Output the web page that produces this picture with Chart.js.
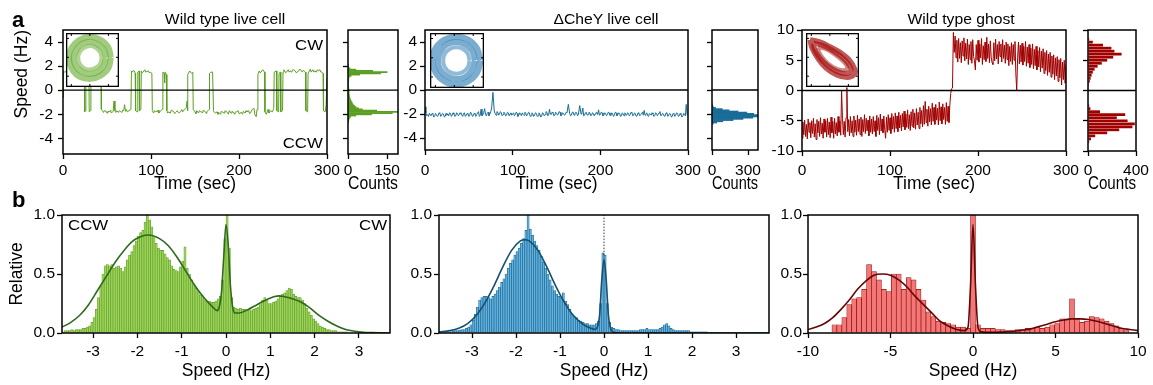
<!DOCTYPE html>
<html>
<head>
<meta charset="utf-8">
<script src="https://cdn.jsdelivr.net/npm/chart.js@4.4.1/dist/chart.umd.min.js"></script>
<style>
  body { margin: 0; background: #fff; }
  #fig { position: relative; width: 1153px; height: 385px; overflow: hidden; font-family: 'Liberation Sans', Arial, sans-serif; color: #000; }
  #fig canvas { position: absolute; }
  .txt { position: absolute; white-space: nowrap; line-height: 1; z-index: 5; }
  .mid { transform: translateX(-50%) scaleX(1.12); }
  .wr { transform: scaleX(1.12); transform-origin: right top; }
  .wl { transform: scaleX(1.12); transform-origin: left top; }
</style>
</head>
<body>
<div id="fig">
  <div class="txt" style="left:12px;top:9px;font-size:22px;font-weight:bold">a</div>
  <div class="txt" style="left:12px;top:189px;font-size:22px;font-weight:bold">b</div>
  <div class="txt mid" style="left:225px;top:12px;font-size:14px">Wild type live cell</div>
  <div class="txt mid" style="left:606px;top:12px;font-size:14px">ΔCheY live cell</div>
  <div class="txt mid" style="left:961px;top:12px;font-size:14px">Wild type ghost</div>
  <div class="txt wr" style="right:830px;top:37px;font-size:15px">CW</div>
  <div class="txt wr" style="right:830px;top:135px;font-size:15px">CCW</div>
  <div class="txt wl" style="left:68px;top:217px;font-size:15px">CCW</div>
  <div class="txt wr" style="right:766px;top:217px;font-size:15px">CW</div>
</div>
<script>
"use strict"

//Tick positions
const timeTicks = [0, 100, 200, 300];
const liveSpeedTicks = [-4, -2, 0, 2, 4];
const ghostSpeedTicks = [-10, -5, 0, 5, 10];
const wtCountTicks = [0, 150];
const cheyCountTicks = [0, 300];
const ghostCountTicks = [0, 400];
const relTicks = [0, 0.5, 1];
const liveHzTicks = [-3, -2, -1, 0, 1, 2, 3];
const ghostHzTicks = [-10, -5, 0, 5, 10];

//Speed traces [time sec, speed Hz]
const wtLivePts = [[0,-0.6],[0.6,1.6],[2,1.5],[5,1.6],[8,1.5],[11,1.6],[14,1.5],[17,1.6],[20,1.5],[23,1.6],[24.2,1.5],[24.6,-1.8],[25.5,-1.7],[26,1.5],[29.4,1.6],[29.8,-1.8],[31.2,-1.7],[31.7,1.5],[35,1.6],[38,1.5],[41,1.6],[43.2,1.5],[43.6,-1.6],[45,-1.7],[46,-1.85],[47,-1.7],[49,-1.75],[50,-1.9],[51,-1.75],[53,-1.8],[54,-1.65],[55,-1.9],[57,-1.75],[58,-0.9],[59,-1.7],[60,-1.85],[61,-1.7],[63,-1.85],[64,-1.7],[65,-1.75],[67,-1.85],[68,-1.65],[69,-1.7],[70,-1.2],[71,-1.75],[72,-1.6],[73,-1.8],[75,-1.7],[77.2,-1.6],[77.8,1.6],[79,1.5],[80,1.65],[81,1.6],[82,1.4],[82.5,-1.7],[84.5,-1.8],[85,1.5],[86.5,1.6],[87,-1.7],[88.5,-1.6],[89,1.6],[90,1.45],[91,1.5],[93,1.7],[94,1.5],[95,1.55],[97,1.6],[98,1.45],[99,1.5],[101,1.4],[101.5,-1.7],[103,-1.9],[104,-1.7],[105,-1.75],[107,-1.8],[108,-1.65],[109,-1.9],[111,-1.7],[113,-1.6],[113.5,1.5],[115,1.4],[115.5,0.6],[116,1.5],[117.5,1.3],[118,-1.7],[119,-1.9],[120,-1.8],[122,-1.9],[123,-1.65],[124,-1.7],[126,-1.8],[127,-1.95],[128,-1.85],[130,-1.7],[131,-1.85],[132,-1.9],[134,-1.75],[135,-1.6],[136,-1.8],[138,-1.6],[140,-1.5],[141,-0.9],[141.5,-1.7],[142,1.3],[144,1.6],[145,1.5],[146,1.4],[147.5,1.5],[148,-1.6],[150,-1.8],[151,-1.95],[152,-1.7],[154,-1.9],[155,-1.7],[156,-1.75],[158,-1.85],[159,-1.7],[160,-1.7],[162,-1.8],[163,-1.95],[164,-1.75],[166,-1.6],[166.5,1.4],[168,1.5],[170,1.5],[171,-1.7],[172,-1.85],[173,-1.9],[175,-1.8],[176,-2.0],[177,-1.85],[179,-2.0],[180,-1.75],[181,-1.8],[183,-1.9],[184,-1.7],[185,-1.75],[187,-1.85],[188,-2.0],[189,-1.7],[191,-1.9],[192,-1.75],[193,-1.8],[195,-2.0],[196,-1.8],[197,-1.8],[199,-1.7],[200,-1.95],[201,-1.9],[203,-1.85],[204,-2.0],[205,-1.75],[207,-1.9],[208,-1.7],[209,-1.8],[211,-1.7],[212,-1.95],[213,-1.9],[215,-1.6],[217,-1.5],[218,-2.0],[219.5,-2.2],[220.5,-1.6],[221.5,1.3],[223,1.6],[224,1.45],[225,1.5],[227,1.7],[229,1.5],[229.5,-1.8],[231,-2.0],[233,-1.6],[234,-1.9],[236,-1.7],[238,-1.8],[239.5,-1.5],[240,1.5],[242.5,1.6],[243,-1.7],[245,-1.8],[245.5,1.4],[247,1.5],[247.5,-1.8],[249.5,-1.7],[250,1.5],[251,1.7],[252,1.6],[253,1.45],[254,1.5],[256,1.7],[257,1.5],[258,1.6],[260,1.5],[261,1.7],[262,1.7],[264,1.6],[265,1.45],[266,1.5],[268,1.6],[269,1.75],[270,1.7],[272,1.5],[273,1.65],[274,1.6],[275.5,1.5],[276,-1.7],[278,-1.8],[278.5,1.4],[280,1.6],[281,1.75],[282,1.5],[284,1.7],[285,1.5],[286,1.6],[288,1.5],[289,1.7],[290,1.6],[292,1.7],[293,1.5],[294,1.5],[295.5,1.4],[296,-1.7],[298,-1.8],[299,-1.2],[300,1.0]];

const cheyPts = [[0,-1.4],[1,-1.9],[2,-2.15],[3,-2.05],[4,-2.2],[5,-1.95],[6,-2.1],[7,-2.15],[8,-1.95],[9,-2.0],[10,-2.25],[11,-2.2],[12,-1.95],[13,-2.05],[14,-2.2],[15,-2.15],[16,-1.9],[17,-1.95],[18,-2.2],[19,-2.1],[20,-1.95],[21,-2.0],[22,-2.25],[23,-2.2],[24,-1.95],[25,-2.1],[26,-2.0],[27,-2.15],[28,-1.9],[29,-1.95],[30,-2.2],[31,-2.1],[32,-1.9],[33,-2.0],[34,-2.2],[35,-2.15],[36,-1.9],[37,-1.95],[38,-2.15],[39,-2.05],[40,-1.9],[41,-2.0],[42,-2.1],[43,-2.2],[44,-1.95],[45,-1.9],[46,-2.2],[47,-2.1],[48,-1.95],[49,-2.0],[50,-2.2],[51,-2.1],[52,-1.85],[53,-1.95],[54,-2.2],[55,-2.15],[56,-1.95],[57,-2.0],[58,-2.2],[59,-2.05],[60,-1.9],[61,-1.8],[62,-2.2],[63,-2.1],[64,-1.6],[65,-2.15],[66,-2.05],[67,-1.9],[68,-1.55],[69,-2.0],[70,-2.15],[71,-1.95],[72,-1.85],[73,-2.15],[74,-2.0],[75,-1.8],[76,-1.5],[77.5,-0.2],[79,-1.75],[80,-1.95],[81,-2.1],[82,-1.8],[83,-1.85],[84,-2.1],[85,-2.0],[86,-1.8],[87,-1.9],[88,-2.15],[89,-2.05],[90,-1.85],[91,-1.95],[92,-2.15],[93,-2.1],[94,-1.85],[95,-1.9],[96,-2.15],[97,-2.0],[98,-1.9],[99,-2.1],[100,-2.0],[101,-1.9],[102,-2.15],[103,-2.05],[104,-1.85],[105,-1.95],[106,-2.2],[107,-2.1],[108,-1.9],[109,-2.0],[110,-2.15],[111,-1.9],[112,-2.05],[113,-2.1],[114,-1.85],[115,-1.95],[116,-2.15],[117,-2.05],[118,-1.85],[119,-1.9],[120,-2.2],[121,-2.15],[122,-1.9],[123,-2.0],[124,-2.2],[125,-2.1],[126,-1.9],[127,-1.95],[128,-2.2],[129,-2.15],[130,-1.9],[131,-2.0],[132,-2.25],[133,-2.2],[134,-1.9],[135,-1.95],[136,-2.15],[137,-2.05],[138,-1.8],[139,-1.85],[140,-2.15],[141,-2.1],[142,-1.6],[143,-2.0],[144,-2.05],[145,-1.85],[146,-1.9],[147,-2.15],[148,-2.1],[149,-1.85],[150,-1.95],[151,-2.1],[152,-2.0],[153,-1.8],[154,-1.85],[155,-2.15],[156,-2.1],[157,-1.9],[158,-1.95],[159,-2.1],[160,-2.05],[161,-1.85],[162,-1.9],[163.5,-1.2],[165,-1.95],[166,-2.15],[167,-2.1],[168,-1.85],[169,-1.85],[170,-2.1],[171,-2.0],[172,-1.85],[173,-1.9],[174,-2.15],[175,-2.05],[176.5,-1.3],[178,-2.0],[179,-1.85],[180,-1.5],[181,-2.15],[182,-2.1],[183,-1.9],[184,-1.85],[185,-2.1],[186,-2.05],[187,-1.85],[188,-1.9],[189,-2.15],[190,-2.1],[191,-1.9],[192,-1.95],[193,-2.15],[194,-2.0],[195,-1.9],[196,-1.85],[197,-2.05],[198,-1.65],[199,-2.1],[200,-2.05],[201,-1.85],[202,-1.9],[203,-2.15],[204,-2.1],[205,-1.9],[206,-1.95],[207,-2.15],[208,-2.05],[209,-1.85],[210,-1.9],[211,-2.1],[212,-2.15],[213,-1.9],[214,-2.0],[215,-2.2],[216,-2.1],[217,-1.85],[218,-1.9],[219,-2.15],[220,-2.05],[221,-1.9],[222,-1.95],[223,-2.2],[224,-2.15],[225,-1.9],[226,-2.0],[227,-2.15],[228,-1.9],[229,-2.05],[230,-2.1],[231,-1.9],[232,-1.95],[233,-2.15],[234,-2.05],[235,-1.85],[236,-1.9],[237,-2.15],[238,-2.1],[239,-1.9],[240,-2.0],[241,-2.2],[242,-2.15],[243,-1.9],[244,-1.95],[245,-2.15],[246,-2.05],[247,-1.95],[248,-1.85],[249,-2.1],[250,-1.7],[251,-2.1],[252,-2.05],[253,-1.9],[254,-2.15],[255,-2.2],[256,-1.95],[257,-2.0],[258,-2.1],[259,-1.9],[260,-2.0],[261,-2.2],[262,-2.15],[263,-1.9],[264,-1.95],[265,-2.15],[266,-2.05],[267,-1.9],[268,-1.8],[269,-2.15],[270,-2.1],[271,-1.95],[272,-2.0],[273,-2.2],[274,-2.15],[275,-1.9],[276,-1.95],[277,-2.2],[278,-2.1],[279,-1.95],[280,-2.0],[281,-2.25],[282,-2.2],[283,-1.95],[284,-2.0],[285,-2.2],[286,-2.1],[287,-1.9],[288,-1.95],[289,-2.2],[290,-2.15],[291,-1.95],[292,-2.05],[293,-2.25],[294,-2.2],[295,-1.95],[296,-2.0],[297,-2.15],[298,-1.2],[299,-2.05],[300,-2.1]];

//Ghost trace, one sample per second from 0 to 300 sec
const ghostSpeed = [
  -7.9,-5.2,-7.3,-4.9,-7.6,-5.6,-8.0,-4.7,-6.9,-5.3,
  -7.8,-5.0,-7.1,-4.6,-7.7,-5.5,-8.1,-4.8,-7.0,-5.1,
  -7.6,-4.5,-7.2,-5.4,-7.9,-4.7,-6.9,-5.0,-7.7,-4.6,
  -7.3,-5.2,-7.8,-4.4,-7.0,-5.1,-7.9,-4.6,-7.2,-5.3,
  -7.5,-4.3,-6.9,-5.0,-7.4,0.0,-4.6,-7.3,-5.1,-7.7,
  -4.5,0.5,-6.8,-4.8,-7.5,-4.3,-7.0,-5.0,-7.6,-4.2,
  -6.9,-4.9,-7.4,-4.1,-6.8,-4.7,-7.3,-4.4,-7.6,-4.8,
  -6.8,-4.0,-7.1,-4.6,-6.7,-4.9,-7.5,-4.2,-6.9,-4.7,
  -7.2,-4.3,-6.8,-5.0,-7.6,-4.1,-6.6,-4.5,-7.3,-3.9,
  -6.7,-4.7,-7.0,-4.2,-6.5,-7.9,-4.4,-6.9,-4.0,-6.6,
  -4.5,-7.1,-3.8,-6.4,-4.3,-6.9,-3.7,-6.3,-4.2,-6.8,
  -3.6,-6.2,-4.1,-6.7,-3.8,-6.0,-3.4,-6.5,-3.9,-6.1,
  -3.2,-6.3,-4.0,-6.6,-3.5,-5.9,-3.1,-6.2,-3.7,-6.4,
  -3.0,-5.7,-3.6,-6.3,-2.8,-5.5,-3.3,-6.0,-2.5,-5.6,
  -1.8,-5.3,-3.1,-5.9,-2.6,-5.2,-3.0,-5.7,-2.1,-5.1,
  -2.8,-5.6,-2.3,-4.9,-2.9,-5.7,-1.9,-5.0,-2.7,-5.5,
  -2.2,-4.8,-2.8,-5.6,-2.0,-5.1,-2.6,-5.3,-2.4,-0.5,
  0.3,0.4,9.6,6.3,9.0,5.4,8.3,4.7,8.6,5.3,
  7.9,4.6,8.2,5.7,8.7,4.9,7.8,5.2,8.5,4.3,
  7.6,5.1,8.1,4.5,8.4,5.6,4.9,3.4,7.6,5.0,
  8.3,4.7,7.7,5.4,8.6,4.3,7.4,5.1,8.0,4.8,
  8.8,5.3,7.7,4.6,8.2,5.5,4.6,4.3,7.9,4.9,
  8.5,5.2,7.6,4.4,8.1,5.6,7.7,4.7,8.4,5.3,
  7.5,4.5,8.0,5.1,7.7,4.1,7.3,4.8,7.9,4.3,
  7.6,5.0,8.1,2.8,0.0,5.4,8.0,4.4,7.5,4.7,
  7.8,4.2,7.3,4.8,8.1,4.0,7.2,4.5,7.6,3.8,
  7.0,4.3,7.7,3.6,6.8,4.1,7.3,3.4,6.6,3.9,
  7.1,3.1,6.5,3.7,6.9,2.8,6.3,3.3,6.6,2.5,
  6.0,3.0,6.3,2.2,5.7,2.7,5.9,1.8,5.4,2.4,
  5.6,1.5,5.1,2.1,5.3,0.9,4.7,1.8,5.0,1.2,
  4.3];

//Side histograms of the traces (speed bins, counts)
const wtCountStart = -2.75, wtCountBin = 0.1;
const wtCounts = [2,2,3,4,6,10,30,90,170,190,110,55,40,30,25,20,17,15,12,10,8,7,6,5,4,4,4,5,3,3,2,2,2,2,2,3,3,3,5,12,45,125,150,95,30,8,3,2,2];
const cheyCountStart = -2.85, cheyCountBin = 0.1;
const cheyCounts = [10,40,90,175,258,340,383,383,347,290,217,142,85,30,10,5,3];
const ghostCountStart = -9.25, ghostCountBin = 0.5;
const ghostCounts = [4,10,25,60,160,260,370,390,330,240,310,100,20,10,5,4,3,3,8,5,8,15,22,30,40,55,80,115,160,210,280,220,195,125,40,10,5,3];

//Relative speed histograms
const wtRelStart = -3.7, wtRelBin = 0.05;
const wtRel = [0.01,0.02,0.02,0.02,0.03,0.02,0.03,0.03,0.03,0.04,0.04,0.05,0.06,0.09,
  0.13,0.20,0.30,0.40,0.50,0.57,0.58,0.57,0.58,0.55,0.56,0.57,0.55,0.52,
  0.56,0.62,0.66,0.69,0.74,0.78,0.82,0.85,0.87,0.94,1.00,0.96,0.90,0.82,
  0.76,0.72,0.70,0.70,0.67,0.64,0.62,0.57,0.54,0.53,0.52,0.56,0.61,0.73,
  0.55,0.50,0.45,0.41,0.38,0.35,0.32,0.30,0.28,0.27,0.27,0.26,0.26,0.27,
  0.29,0.31,0.45,0.80,1.00,0.72,0.30,0.22,0.21,0.20,0.21,0.20,0.20,0.19,
  0.20,0.19,0.20,0.21,0.22,0.24,0.28,0.30,0.28,0.25,0.25,0.26,0.27,0.29,
  0.31,0.33,0.34,0.36,0.38,0.37,0.33,0.31,0.30,0.30,0.28,0.25,0.21,0.18,
  0.15,0.12,0.10,0.08,0.06,0.05,0.04,0.03,0.03,0.02,0.02,0.02,0.01,0.01,
  0.01,0.01,0.01];
const wtFitX = [-3.7,-3.5,-3.3,-3.1,-2.9,-2.7,-2.5,-2.3,-2.1,-1.9,-1.75,-1.5,-1.3,-1.1,-0.9,-0.7,-0.5,-0.3,-0.2,-0.15,-0.1,-0.05,0,0.05,0.1,0.15,0.2,0.3,0.5,0.7,0.9,1.1,1.2,1.3,1.5,1.7,1.9,2.1,2.3,2.5,2.7,2.9,3.1,3.3,3.7];
const wtFitY = [0.05,0.09,0.15,0.24,0.36,0.48,0.60,0.70,0.78,0.82,0.83,0.80,0.74,0.64,0.52,0.40,0.30,0.22,0.19,0.22,0.35,0.65,0.92,0.75,0.40,0.22,0.17,0.17,0.20,0.24,0.28,0.31,0.315,0.31,0.29,0.26,0.21,0.15,0.10,0.06,0.03,0.015,0.006,0.003,0.0];

const cheyRelStart = -3.75, cheyRelBin = 0.05;
const cheyRel = [0.005,0.005,0.01,0.01,0.01,0.01,0.015,0.02,0.02,0.025,0.03,0.03,0.04,0.05,
  0.07,0.11,0.16,0.22,0.28,0.30,0.31,0.31,0.30,0.29,0.31,0.33,0.36,0.39,
  0.43,0.46,0.50,0.55,0.59,0.62,0.66,0.69,0.72,0.76,0.80,0.87,1.00,0.88,
  0.83,0.78,0.74,0.70,0.65,0.60,0.55,0.50,0.45,0.40,0.36,0.33,0.31,0.30,
  0.34,0.27,0.24,0.20,0.16,0.14,0.13,0.11,0.10,0.09,0.08,0.08,0.07,0.07,
  0.07,0.08,0.10,0.25,0.68,0.66,0.25,0.09,0.05,0.04,0.03,0.03,0.02,0.02,
  0.02,0.02,0.02,0.02,0.02,0.02,0.02,0.03,0.03,0.03,0.04,0.03,0.03,0.03,
  0.03,0.03,0.04,0.05,0.07,0.08,0.06,0.04,0.03,0.02,0.02,0.02,0.02,0.02,
  0.02,0.02,0.01,0.01,0.01,0.01,0.01,0.01,0.01,0.01,0.005,0.005,0.005,0.005];
const cheyFitX = [-3.75,-3.5,-3.3,-3.1,-2.9,-2.7,-2.5,-2.3,-2.1,-1.9,-1.8,-1.7,-1.5,-1.3,-1.1,-0.9,-0.7,-0.5,-0.3,-0.2,-0.15,-0.1,-0.05,0,0.05,0.1,0.15,0.2,0.3,1.0,2.0,3.0,3.75];
const cheyFitY = [0.01,0.02,0.04,0.08,0.15,0.26,0.40,0.56,0.70,0.78,0.79,0.78,0.70,0.56,0.40,0.26,0.15,0.08,0.04,0.03,0.05,0.15,0.45,0.62,0.45,0.15,0.04,0.01,0.0,0.0,0.0,0.0,0.0];

const ghostRelStart = -8.55, ghostRelBin = 0.3;
const ghostRel = [0.07,0.07,0.13,0.24,0.29,0.30,0.37,0.58,0.52,0.45,
  0.37,0.35,0.50,0.50,0.37,0.47,0.45,0.37,0.28,0.18,
  0.14,0.10,0.09,0.08,0.07,0.05,0.05,0.04,1.00,0.07,
  0.04,0.04,0.04,0.03,0.03,0.02,0.02,0.03,0.03,0.04,
  0.04,0.05,0.04,0.05,0.07,0.08,0.12,0.12,0.29,0.12,
  0.09,0.10,0.14,0.13,0.12,0.10,0.08,0.06,0.04,0.02];
const ghostFitX = [-10,-9.5,-9,-8.5,-8,-7.5,-7,-6.5,-6,-5.5,-5,-4.5,-4,-3.5,-3,-2.5,-2,-1.5,-1,-0.5,-0.3,-0.15,0,0.15,0.3,0.5,1,2,2.5,3,3.5,4,4.5,5,5.5,6,6.5,7,7.5,8,8.5,9,9.5,10];
const ghostFitY = [0.03,0.05,0.08,0.13,0.20,0.28,0.37,0.44,0.49,0.50,0.49,0.45,0.39,0.31,0.24,0.17,0.10,0.06,0.03,0.02,0.05,0.40,0.92,0.40,0.05,0.01,0.005,0.01,0.015,0.025,0.035,0.055,0.075,0.095,0.11,0.12,0.12,0.115,0.10,0.08,0.06,0.04,0.03,0.02];

//Bead position insets (x, y loops)
const wtRingOuter = [[0.72,0.02],[0.63,0.37],[0.35,0.63],[0.0,0.73],[-0.37,0.62],[-0.63,0.35],[-0.72,0.0],[-0.62,-0.37],[-0.36,-0.64],[0.02,-0.72],[0.37,-0.61],[0.64,-0.35],[0.72,0.02]];
const wtRingMid = [[0.55,0.0],[0.48,0.28],[0.27,0.47],[0.0,0.56],[-0.28,0.48],[-0.47,0.27],[-0.56,0.0],[-0.48,-0.28],[-0.27,-0.48],[0.0,-0.55],[0.28,-0.47],[0.47,-0.28],[0.55,0.0]];
const wtRingInner = [[0.4,0.0],[0.35,0.2],[0.2,0.35],[0.0,0.41],[-0.21,0.34],[-0.35,0.2],[-0.4,0.0],[-0.34,-0.21],[-0.2,-0.35],[0.0,-0.4],[0.2,-0.34],[0.35,-0.2],[0.4,0.0]];
const cheyRingOuter = [[0.73,0.0],[0.63,0.36],[0.36,0.63],[0.0,0.72],[-0.36,0.63],[-0.64,0.36],[-0.73,0.0],[-0.63,-0.36],[-0.36,-0.63],[0.0,-0.73],[0.36,-0.63],[0.63,-0.37],[0.73,0.0]];
const cheyRingMid = [[0.56,0.0],[0.49,0.28],[0.28,0.48],[0.0,0.56],[-0.28,0.49],[-0.48,0.28],[-0.56,0.0],[-0.49,-0.28],[-0.28,-0.48],[0.0,-0.56],[0.28,-0.49],[0.48,-0.28],[0.56,0.0]];
const cheyRingInner = [[0.4,0.0],[0.35,0.2],[0.2,0.35],[0.0,0.4],[-0.2,0.35],[-0.35,0.2],[-0.4,0.0],[-0.35,-0.2],[-0.2,-0.35],[0.0,-0.4],[0.2,-0.35],[0.35,-0.2],[0.4,0.0]];
const ghostLoopOuter = [[-0.85,0.75],[-0.5,0.68],[-0.1,0.5],[0.3,0.28],[0.62,0.02],[0.85,-0.35],[0.82,-0.55],[0.55,-0.65],[0.15,-0.55],[-0.25,-0.3],[-0.55,0.05],[-0.78,0.45],[-0.85,0.75]];
const ghostLoopMid = [[-0.72,0.62],[-0.4,0.55],[-0.05,0.38],[0.3,0.15],[0.58,-0.12],[0.7,-0.38],[0.5,-0.5],[0.15,-0.42],[-0.2,-0.2],[-0.5,0.1],[-0.68,0.4],[-0.72,0.62]];
const ghostLoopInner = [[-0.55,0.48],[-0.2,0.38],[0.15,0.15],[0.45,-0.1],[0.55,-0.3],[0.35,-0.38],[0.0,-0.25],[-0.3,0.0],[-0.5,0.28],[-0.55,0.48]];


Chart.defaults.font.family = "'Liberation Sans', Arial, sans-serif";
Chart.defaults.color = '#000';

//Draws the box round the plot area, the zero line and a white ground for insets
const framePlugin = {
    id: 'frame',
    beforeDraw(chart, args, o) {
        if (!o.white) return;
        const a = chart.chartArea;
        chart.ctx.save();
        chart.ctx.fillStyle = '#fff';
        chart.ctx.fillRect(a.left, a.top, a.right - a.left, a.bottom - a.top);
        chart.ctx.restore();
    },
    afterDatasetsDraw(chart, args, o) {
        const a = chart.chartArea, ctx = chart.ctx;
        ctx.save();
        ctx.strokeStyle = '#000';
        if (o.zero) {
            const y = chart.scales.y.getPixelForValue(0);
            ctx.lineWidth = 1.3;
            ctx.beginPath(); ctx.moveTo(a.left, y); ctx.lineTo(a.right, y); ctx.stroke();
        }
        const lw = o.lw || 1.5;
        const h = o.inside ? lw / 2 : 0;
        ctx.lineWidth = lw;
        ctx.strokeRect(a.left + h, a.top + h, a.right - a.left - 2 * h, a.bottom - a.top - 2 * h);
        if (o.innerTicks) {
            const w = a.right - a.left, ht = a.bottom - a.top;
            ctx.lineWidth = 1;
            ctx.beginPath();
            for (const f of o.innerTicks) {
                ctx.moveTo(a.left + f * w, a.top); ctx.lineTo(a.left + f * w, a.top + 3);
                ctx.moveTo(a.left + f * w, a.bottom); ctx.lineTo(a.left + f * w, a.bottom - 3);
                ctx.moveTo(a.left, a.top + f * ht); ctx.lineTo(a.left + 3, a.top + f * ht);
                ctx.moveTo(a.right, a.top + f * ht); ctx.lineTo(a.right - 3, a.top + f * ht);
            }
            ctx.stroke();
        }
        ctx.restore();
    }
};
Chart.register(framePlugin);


function linAxis(o) {
    return {
        type: 'linear', min: o.min, max: o.max, offset: false, bounds: 'data',
        afterBuildTicks: s => { s.ticks = o.ticks.map(v => ({ value: v })); },
        afterFit: s => {
            if (o.horiz) s.height = o.size; else s.width = o.size;
            s.paddingLeft = 0; s.paddingRight = 0; s.paddingTop = 0; s.paddingBottom = 0;
        },
        grid: { display: true, offset: false, drawOnChartArea: false, drawTicks: true, tickLength: 5, tickWidth: 1.3, tickColor: '#000' },
        border: { display: false },
        ticks: {
            display: o.labels !== false, padding: o.pad, color: '#000', font: { size: 15.5 },
            maxRotation: 0, autoSkip: false, callback: o.fmt || (v => String(v))
        },
        title: o.title ? {
            display: true, text: o.title, color: '#000', font: { size: 17.5 },
            padding: { top: o.tpad || 0, bottom: 0 }, align: o.talign || 'center'
        } : { display: false }
    };
}

function panel(box, m, type, datasets, scales, frame, extra) {
    const c = document.createElement('canvas');
    const w = box.r - box.l + m.l + m.r, h = box.b - box.t + m.t + m.b;
    c.width = w; c.height = h;
    c.style.left = (box.l - m.l) + 'px';
    c.style.top = (box.t - m.t) + 'px';
    c.style.width = w + 'px';
    c.style.height = h + 'px';
    document.getElementById('fig').appendChild(c);

    const options = Object.assign({
        responsive: false, animation: false, devicePixelRatio: 1, events: [],
        layout: { padding: { left: 0, top: m.t, right: m.r, bottom: 0 } },
        scales: scales,
        plugins: { legend: { display: false }, tooltip: { enabled: false }, frame: frame }
    }, extra || {});

    return new Chart(c, { type: type, data: { datasets: datasets }, options: options });
}

function trace(pts, color) {
    return { type: 'line', data: pts.map(p => ({ x: p[0], y: p[1] })), borderColor: color, borderWidth: 1, pointRadius: 0, tension: 0 };
}

function bins(start, width, vals, sideways) {
    return vals.map((v, i) => {
        const c = start + (i + 0.5) * width;
        return sideways ? { x: v, y: c } : { x: c, y: v };
    });
}

function sideHist(start, width, vals, color) {
    return { data: bins(start, width, vals, true), backgroundColor: color, borderWidth: 0, barPercentage: 1, categoryPercentage: 1 };
}

function relHist(start, width, vals, fill, edge) {
    return { type: 'bar', order: 2, data: bins(start, width, vals, false), backgroundColor: fill, borderColor: edge, borderWidth: 0.7, borderSkipped: 'bottom', barPercentage: 1, categoryPercentage: 1 };
}

function fitLine(xs, ys, color) {
    return { type: 'line', order: 0, data: xs.map((x, i) => ({ x: x, y: ys[i] })), borderColor: color, borderWidth: 1.6, pointRadius: 0, cubicInterpolationMode: 'monotone' };
}

function loop(pts, color, lw) {
    return { data: pts.map(p => ({ x: p[0], y: p[1] })), borderColor: color, borderWidth: lw, pointRadius: 0, tension: 0.4 };
}

function inset(box, datasets, xr, yr) {
    return panel(box, { l: 0, t: 0, r: 0, b: 0 }, 'line', datasets, {
        x: { type: 'linear', display: false, min: xr[0], max: xr[1] },
        y: { type: 'linear', display: false, min: yr[0], max: yr[1] }
    }, { white: true, lw: 1.3, inside: true, innerTicks: [0.1, 0.45, 0.8] });
}


const GREEN = '#5b9f22', BLUE = '#1b6d98', RED = '#a10000';

//Row a: speed traces
panel({ l: 63, t: 30, r: 327, b: 154 }, { l: 63, t: 30, r: 16, b: 41 }, 'line',
    [trace(wtLivePts, GREEN)],
    {
        x: linAxis({ horiz: true, min: 0, max: 300, ticks: timeTicks, size: 41, pad: 2, title: 'Time (sec)' }),
        y: linAxis({ min: -5.3, max: 5, ticks: liveSpeedTicks, size: 63, pad: 5, title: 'Speed (Hz)', tpad: 12, talign: 'end' })
    }, { zero: true });

panel({ l: 348, t: 30, r: 398, b: 154 }, { l: 10, t: 30, r: 14, b: 41 }, 'bar',
    [sideHist(wtCountStart, wtCountBin, wtCounts, GREEN)],
    {
        x: linAxis({ horiz: true, min: 0, max: 192, ticks: wtCountTicks, size: 41, pad: 2, title: 'Counts' }),
        y: linAxis({ min: -5.3, max: 5, ticks: liveSpeedTicks, size: 10, labels: false })
    }, { zero: true }, { indexAxis: 'y' });

panel({ l: 425, t: 30, r: 688, b: 150 }, { l: 32, t: 30, r: 16, b: 45 }, 'line',
    [trace(cheyPts, BLUE)],
    {
        x: linAxis({ horiz: true, min: 0, max: 300, ticks: timeTicks, size: 45, pad: 6, title: 'Time (sec)' }),
        y: linAxis({ min: -5, max: 5, ticks: liveSpeedTicks, size: 32, pad: 3 })
    }, { zero: true });

panel({ l: 712, t: 30, r: 758, b: 150 }, { l: 10, t: 30, r: 16, b: 45 }, 'bar',
    [sideHist(cheyCountStart, cheyCountBin, cheyCounts, BLUE)],
    {
        x: linAxis({ horiz: true, min: 0, max: 383, ticks: cheyCountTicks, size: 45, pad: 6, title: 'Counts' }),
        y: linAxis({ min: -5, max: 5, ticks: liveSpeedTicks, size: 10, labels: false })
    }, { zero: true }, { indexAxis: 'y' });

panel({ l: 802, t: 30, r: 1066, b: 151 }, { l: 38, t: 30, r: 16, b: 44 }, 'line',
    [{ type: 'line', data: ghostSpeed.map((v, i) => ({ x: i, y: v })), borderColor: RED, borderWidth: 1, pointRadius: 0, tension: 0 }],
    {
        x: linAxis({ horiz: true, min: 0, max: 300, ticks: timeTicks, size: 44, pad: 5, title: 'Time (sec)' }),
        y: linAxis({ min: -10, max: 10, ticks: ghostSpeedTicks, size: 38, pad: 3 })
    }, { zero: true });

panel({ l: 1088, t: 30, r: 1136, b: 151 }, { l: 10, t: 30, r: 16, b: 44 }, 'bar',
    [Object.assign(sideHist(ghostCountStart, ghostCountBin, ghostCounts, RED), { barPercentage: 0.9 })],
    {
        x: linAxis({ horiz: true, min: 0, max: 400, ticks: ghostCountTicks, size: 44, pad: 5, title: 'Counts' }),
        y: linAxis({ min: -10, max: 10, ticks: ghostSpeedTicks, size: 10, labels: false })
    }, { zero: true }, { indexAxis: 'y' });

//Insets
inset({ l: 66, t: 33, r: 119, b: 87 }, [
    loop(wtRingOuter, 'rgba(98,168,40,0.6)', 6),
    loop(wtRingMid, 'rgba(98,168,40,0.6)', 6),
    loop(wtRingInner, 'rgba(98,168,40,0.5)', 4)
], [-0.82, 1.0], [-1.0, 0.86]);

inset({ l: 430, t: 33, r: 484, b: 88 }, [
    loop(cheyRingOuter, 'rgba(35,118,176,0.6)', 6),
    loop(cheyRingMid, 'rgba(35,118,176,0.6)', 6),
    loop(cheyRingInner, 'rgba(35,118,176,0.5)', 4)
], [-0.8, 0.84], [-0.83, 0.83]);

inset({ l: 806, t: 33, r: 859, b: 87 }, [
    loop(ghostLoopOuter, 'rgba(165,15,15,0.7)', 5),
    loop(ghostLoopMid, 'rgba(165,15,15,0.7)', 5),
    loop(ghostLoopInner, 'rgba(165,15,15,0.5)', 4)
], [-1, 1], [-1, 1]);

//Row b: relative histograms with fits
const relFmt = v => v.toFixed(1);

panel({ l: 62, t: 215, r: 390, b: 333 }, { l: 62, t: 20, r: 10, b: 49 }, 'bar',
    [relHist(wtRelStart, wtRelBin, wtRel, '#9fd45a', '#64a22c'), fitLine(wtFitX, wtFitY, '#2e6a1c')],
    {
        x: linAxis({ horiz: true, min: -3.7, max: 3.7, ticks: liveHzTicks, size: 49, pad: 4, title: 'Speed (Hz)' }),
        y: linAxis({ min: 0, max: 1, ticks: relTicks, size: 62, pad: 2, fmt: relFmt, title: 'Relative', tpad: 7 })
    }, {});

panel({ l: 439, t: 215, r: 769, b: 333 }, { l: 39, t: 20, r: 11, b: 49 }, 'bar',
    [relHist(cheyRelStart, cheyRelBin, cheyRel, '#64b2e0', '#1d6995'), fitLine(cheyFitX, cheyFitY, '#15506f'),
     { type: 'line', order: 0, data: [{ x: 0, y: 0.66 }, { x: 0, y: 1 }], borderColor: '#000', borderWidth: 0.8, borderDash: [1.5, 1.5], pointRadius: 0 }],
    {
        x: linAxis({ horiz: true, min: -3.75, max: 3.75, ticks: liveHzTicks, size: 49, pad: 4, title: 'Speed (Hz)' }),
        y: linAxis({ min: 0, max: 1, ticks: relTicks, size: 39, pad: 2, fmt: relFmt })
    }, {});

panel({ l: 808, t: 215, r: 1138, b: 333 }, { l: 38, t: 20, r: 13, b: 49 }, 'bar',
    [relHist(ghostRelStart, ghostRelBin, ghostRel, '#f27878', '#9a0d0d'), fitLine(ghostFitX, ghostFitY, '#680606')],
    {
        x: linAxis({ horiz: true, min: -10, max: 10, ticks: ghostHzTicks, size: 49, pad: 4, title: 'Speed (Hz)' }),
        y: linAxis({ min: 0, max: 1, ticks: relTicks, size: 38, pad: 1, fmt: relFmt })
    }, {});
</script>
</body>
</html>
